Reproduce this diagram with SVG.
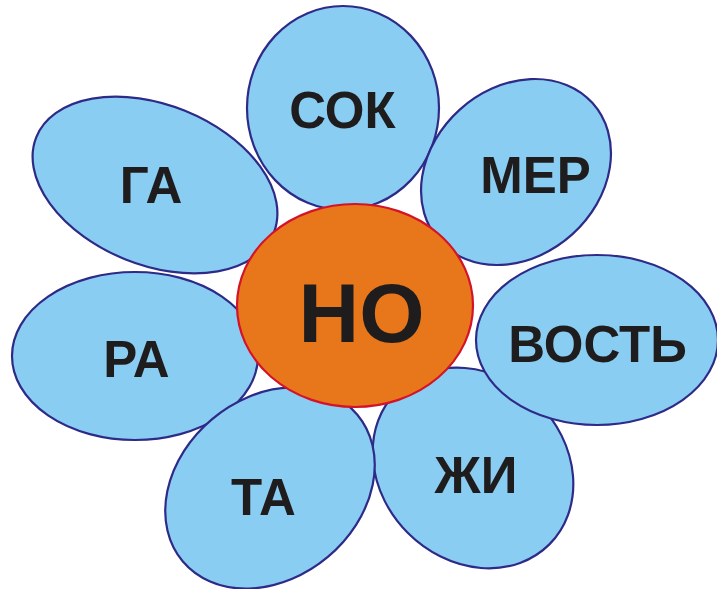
<svg xmlns="http://www.w3.org/2000/svg" width="717" height="589" viewBox="0 0 717 589">
<style>
.petal{fill:#8acdf2;stroke:#2e2a87;stroke-width:2.2}
.core{fill:#e8761a;stroke:#d4132a;stroke-width:2.2}
.t{font-family:"Liberation Sans",Arial,sans-serif;font-weight:bold;fill:#1f1c1d;text-anchor:middle}
</style>
<rect width="717" height="589" fill="#ffffff"/>
<g id="petal-ra"><ellipse class="petal" cx="135" cy="356" rx="123" ry="84"/><text class="t" x="136.5" y="377" font-size="51">РА</text></g>
<g id="petal-ga"><ellipse class="petal" cx="0" cy="0" rx="128" ry="80" transform="translate(155 185) rotate(22)"/><text class="t" x="151" y="203" font-size="51">ГА</text></g>
<g id="petal-sok"><ellipse class="petal" cx="343" cy="108" rx="96" ry="102"/><text class="t" x="342.5" y="128" font-size="51">СОК</text></g>
<g id="petal-mer"><ellipse class="petal" cx="0" cy="0" rx="103" ry="84" transform="translate(516 172) rotate(-42)"/><text class="t" x="535.5" y="193" font-size="51">МЕР</text></g>
<g id="petal-zhi"><ellipse class="petal" cx="0" cy="0" rx="108" ry="92" transform="translate(473 468) rotate(45)"/><text class="t" x="476" y="493" font-size="51">ЖИ</text></g>
<g id="petal-vost"><ellipse class="petal" cx="597" cy="340" rx="121" ry="85"/><text class="t" x="597.5" y="362" font-size="51">ВОСТЬ</text></g>
<g id="petal-ta"><ellipse class="petal" cx="0" cy="0" rx="114" ry="90" transform="translate(270 488) rotate(-40)"/><text class="t" x="263.5" y="515" font-size="51">ТА</text></g>
<g id="center-no"><ellipse class="core" cx="355" cy="305.5" rx="118" ry="101.5"/><text class="t" x="361.5" y="342" font-size="84">НО</text></g>
<g id="connectors"></g>
</svg>
